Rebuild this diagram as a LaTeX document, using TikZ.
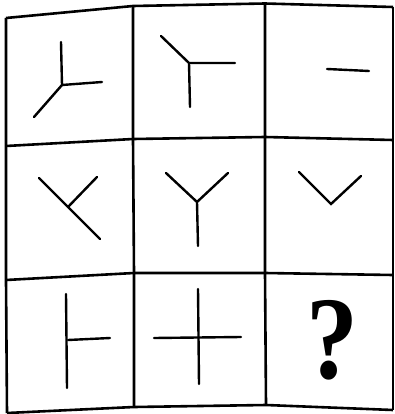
\documentclass[tikz,border=0pt]{standalone}
\usepackage{fontspec}
\newfontfamily\qfont{Liberation Serif}
\usetikzlibrary{positioning}

\begin{document}
\begin{tikzpicture}[x=1pt, y=-1pt, frame/.style={line width=2.6pt, line join=round}, fig/.style={line width=2.4pt, line cap=round}]
    \fill[white] (0,0) rectangle (395,414);
    \useasboundingbox (0,0) rectangle (395,414);
    % Grid points
    \coordinate (a0) at (6,18);   \coordinate (a1) at (133,6);   \coordinate (a2) at (265,3.5); \coordinate (a3) at (393,7);
    \coordinate (b0) at (6,146);  \coordinate (b1) at (133,139); \coordinate (b2) at (265,137); \coordinate (b3) at (393,140);
    \coordinate (c0) at (6,280);  \coordinate (c1) at (134,273); \coordinate (c2) at (265,273); \coordinate (c3) at (393,275);
    \coordinate (d0) at (7,413);  \coordinate (d1) at (134,407); \coordinate (d2) at (266,405); \coordinate (d3) at (393,410);
    % Grid
    \foreach \r in {a,b,c,d}
        \draw[frame] (\r0) -- (\r1) -- (\r2) -- (\r3);
    \foreach \k in {0,1,2,3}
        \draw[frame] (a\k) -- (b\k) -- (c\k) -- (d\k);
    % Row 1
    \draw[fig] (61,42) -- (62,85) -- (102,82);
    \draw[fig] (62,85) -- (34,117);
    \draw[fig] (161,36) -- (189,63) -- (235,63);
    \draw[fig] (189,63) -- (190,107);
    \draw[fig] (327,69) -- (369,71);
    % Row 2
    \draw[fig] (39,178) -- (100,239);
    \draw[fig] (68,207) -- (97,177);
    \draw[fig] (166,173) -- (197,202) -- (228,173);
    \draw[fig] (197,202) -- (198,246);
    \draw[fig] (299,172) -- (331,204) -- (361,176);
    % Row 3
    \draw[fig] (66,294) -- (67,388);
    \draw[fig] (68,340) -- (110,338);
    \draw[fig] (198,289) -- (199,384);
    \draw[fig] (154,338) -- (241,337);
    % Question mark
    \node[inner sep=0pt, xscale=0.88, font=\qfont\bfseries\fontsize{118}{118}\selectfont] (q) at (332,340) {?};
\end{tikzpicture}
\end{document}
